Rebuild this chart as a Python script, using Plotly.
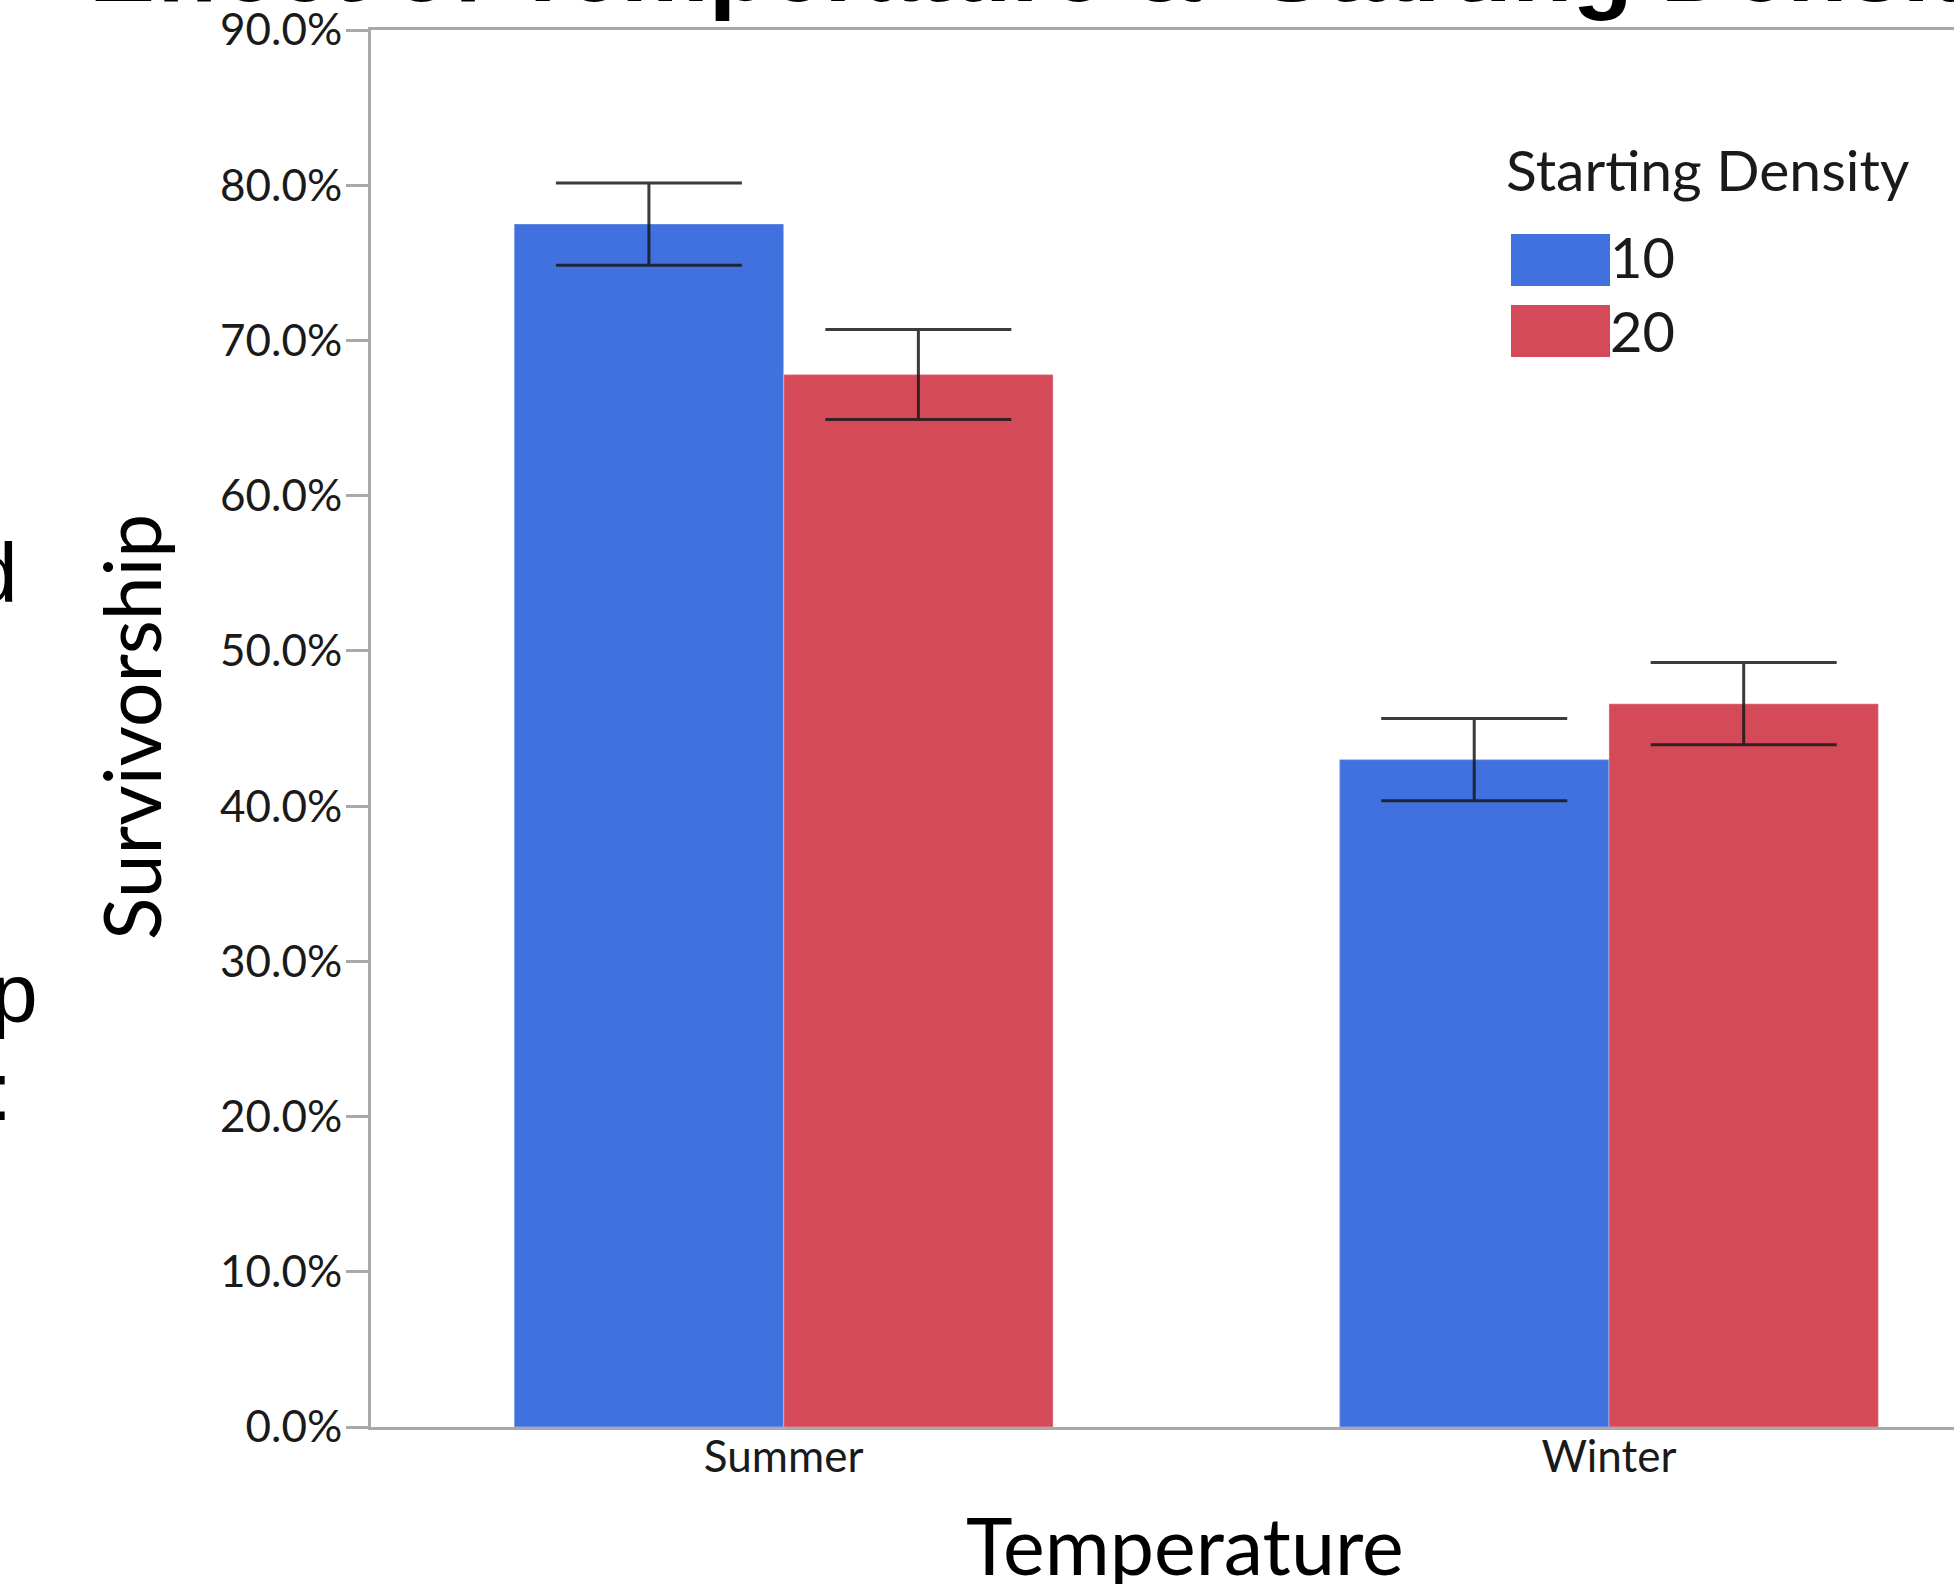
import plotly.graph_objects as go

# ---- data ----
categories = ["Summer", "Winter"]
density_10 = [77.5, 43.0]
density_20 = [67.8, 46.6]
err_10 = [2.65, 2.65]
err_20 = [2.9, 2.65]
series_names = ["10", "20"]
yticks = [0, 10, 20, 30, 40, 50, 60, 70, 80, 90]
ytick_labels = ["0.0%", "10.0%", "20.0%", "30.0%", "40.0%",
                "50.0%", "60.0%", "70.0%", "80.0%", "90.0%"]

# ---- layout geometry (pixels) ----
W, H = 1954, 1584
L, R, T, B = 371, 0, 30, 157
PW, PH = W - L - R, H - T - B
BOTTOM = H - B


def px(xp):
    return (xp - L) / PW


def py(yp):
    return (BOTTOM - yp) / PH


BLUE = "#4171DE"
RED = "#D54A59"
AXIS = "#A9A9A9"
ERR = "rgba(25,25,25,0.85)"
FONT = "Lato, 'Open Sans', sans-serif"
ARIAL = "'Liberation Sans', Arial, sans-serif"

fig = go.Figure()
for name, vals, errs, col in [(series_names[0], density_10, err_10, BLUE),
                              (series_names[1], density_20, err_20, RED)]:
    fig.add_trace(go.Bar(
        x=categories, y=vals, name=name,
        marker=dict(color=col, line=dict(color="rgba(255,255,255,0.22)", width=1.5)),
        error_y=dict(type="data", array=errs, visible=True,
                     color=ERR, thickness=3, width=93),
        showlegend=False,
    ))

annotations = [
    # partially visible slide title
    dict(text="<b>Effect of Temperature &amp;&nbsp; Starting Density</b>",
         x=px(87), y=py(-33), xanchor="left", yanchor="middle",
         font=dict(family=ARIAL, size=99, color="black")),
    # cut-off slide text on the left
    dict(text="d", x=px(20), y=py(573), xanchor="right", yanchor="middle",
         font=dict(family=ARIAL, size=84, color="black")),
    dict(text="p", x=px(40), y=py(993), xanchor="right", yanchor="middle",
         font=dict(family=ARIAL, size=84, color="black")),
    dict(text=":", x=px(13.5), y=py(1091), xanchor="right", yanchor="middle",
         font=dict(family=ARIAL, size=84, color="black")),
    # axis titles
    dict(text="Survivorship", textangle=-90, x=px(131), y=py(727),
         xanchor="center", yanchor="middle",
         font=dict(family=FONT, size=78.5, color="black")),
    dict(text="Temperature", x=px(1185), y=py(1544),
         xanchor="center", yanchor="middle",
         font=dict(family=FONT, size=79, color="black")),
    # legend
    dict(text="Starting Density", x=px(1504), y=py(169),
         xanchor="left", yanchor="middle",
         font=dict(family=FONT, size=57, color="#1a1a1a")),
    dict(text=series_names[0], x=px(1608), y=py(257),
         xanchor="left", yanchor="middle",
         font=dict(family=FONT, size=56, color="#1a1a1a")),
    dict(text=series_names[1], x=px(1608), y=py(330),
         xanchor="left", yanchor="middle",
         font=dict(family=FONT, size=56, color="#1a1a1a")),
]
for a in annotations:
    a.update(xref="paper", yref="paper", showarrow=False)

shapes = [
    dict(type="rect", xref="paper", yref="paper",
         x0=px(1511), x1=px(1610), y0=py(286), y1=py(234),
         fillcolor=BLUE, line=dict(width=0)),
    dict(type="rect", xref="paper", yref="paper",
         x0=px(1511), x1=px(1610), y0=py(357), y1=py(305),
         fillcolor=RED, line=dict(width=0)),
]

fig.update_layout(
    width=W, height=H, autosize=False,
    margin=dict(l=L, r=R, t=T, b=B, pad=0),
    paper_bgcolor="white", plot_bgcolor="white",
    barmode="group", bargap=0.347, bargroupgap=0,
    font=dict(family=FONT, color="#1a1a1a"),
    annotations=annotations, shapes=shapes,
    showlegend=False,
)
fig.update_xaxes(
    type="category", range=[-0.5, -0.5 + PW / 825.3],
    showline=True, linecolor=AXIS, linewidth=3, mirror=True,
    ticks="", showgrid=False, zeroline=False, ticklabelstandoff=-11,
    tickfont=dict(family=FONT, size=44, color="#1a1a1a"),
)
fig.update_yaxes(
    range=[0, 90], tickvals=yticks, ticktext=ytick_labels,
    showline=True, linecolor=AXIS, linewidth=3, mirror=False,
    ticks="outside", ticklen=22, tickwidth=3, tickcolor=AXIS,
    showgrid=False, zeroline=False, ticklabelstandoff=-5,
    tickfont=dict(family=FONT, size=44, color="#1a1a1a"),
)

fig.write_html(
    "out.html",
    config={"displayModeBar": False},
    post_script="document.body.style.margin='0';document.body.style.overflow='hidden';",
)
